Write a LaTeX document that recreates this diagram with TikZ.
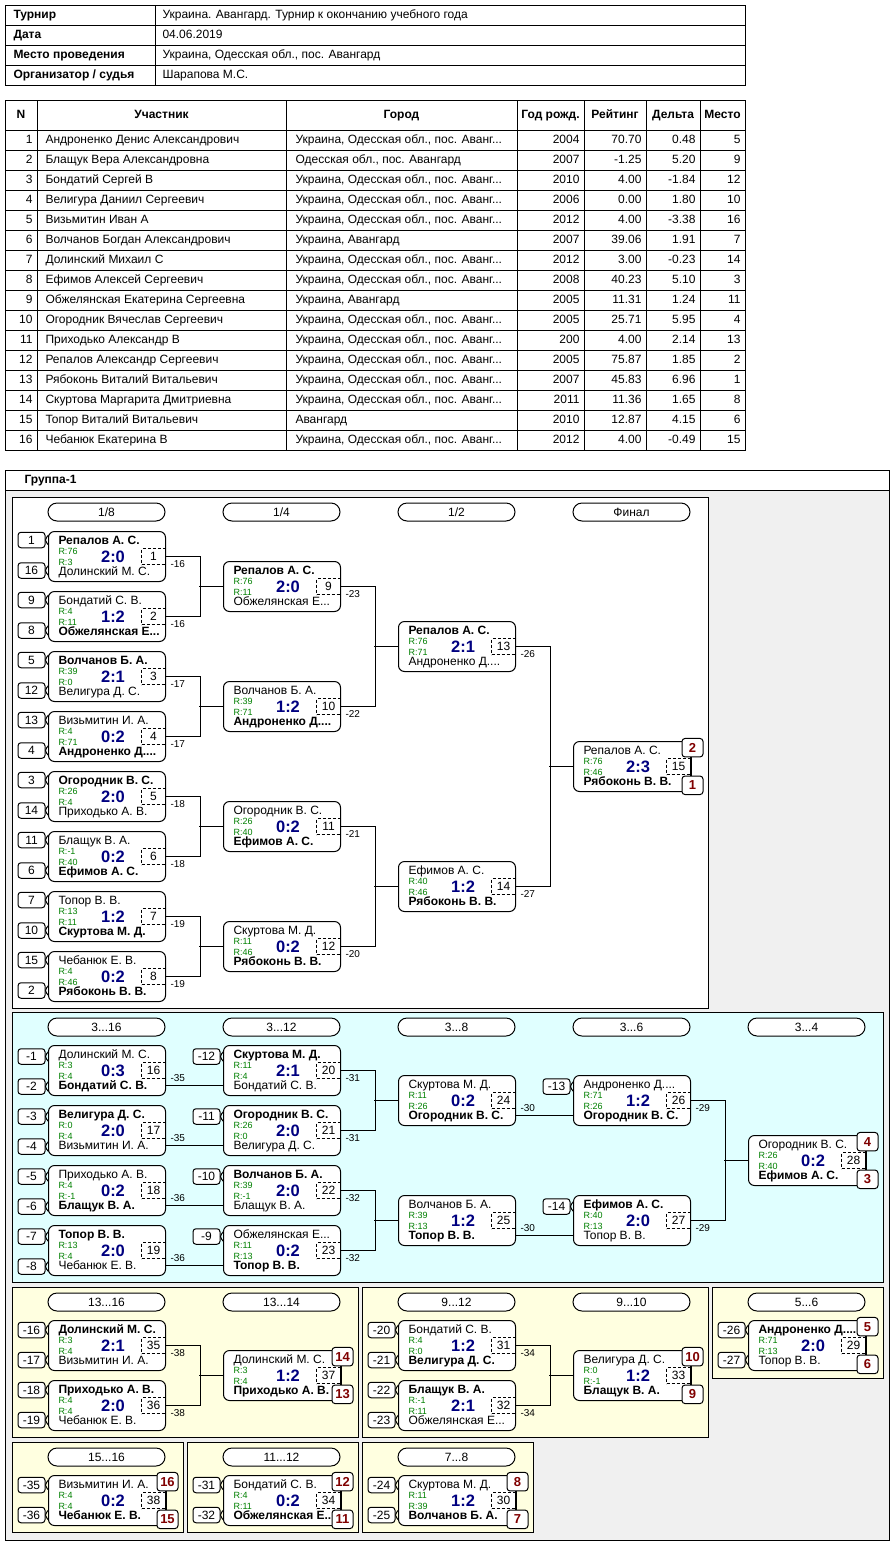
\documentclass[tikz,border=0pt]{standalone}
\usepackage{fontspec}
\setmainfont{Liberation Sans}
\usetikzlibrary{positioning,calc}

\definecolor{grpGray}{HTML}{F0F0F0}
\definecolor{grpCyan}{HTML}{E0FFFF}
\definecolor{grpYellow}{HTML}{FFFFE0}
\definecolor{grpScore}{HTML}{000080}
\definecolor{grpRating}{HTML}{008000}
\definecolor{grpPlace}{HTML}{800000}

\newcommand{\pxfont}[1]{\fontsize{#1pt}{#1pt}\selectfont}
\newcommand{\cityUOA}{Украина, Одесская обл., пос. Аванг...}

\tikzset{
  cell/.style={inner sep=0pt, font=\pxfont{12}, text height=9pt, text depth=2.5pt},
  cellhead/.style={cell, font=\pxfont{12}\bfseries},
  panelmain/.style={draw, fill=white},
  panelcons/.style={draw, fill=grpCyan},
  panelplace/.style={draw, fill=grpYellow},
  stage/.style={draw, fill=white, rounded corners=9pt, minimum width=117pt,
    minimum height=18pt, inner sep=0pt, font=\pxfont{12}},
  game/.style={draw, fill=white, rounded corners=6pt, minimum width=117pt,
    minimum height=50pt, inner sep=0pt},
  pname/.style={inner sep=0pt, font=\pxfont{12}},
  rating/.style={anchor=west, inner sep=0pt, font=\pxfont{9}, text=grpRating},
  score/.style={inner sep=0pt, font=\pxfont{16.5}\bfseries, text=grpScore},
  gameno/.style={draw, dash pattern=on 3pt off 2pt, anchor=east,
    minimum width=24pt, minimum height=16pt, inner sep=0pt, font=\pxfont{12}},
  loser/.style={anchor=west, inner sep=0pt, font=\pxfont{10}},
  seedbox/.style={draw, fill=white, rounded corners=3pt, minimum width=27pt,
    minimum height=15.5pt, inner sep=0pt, font=\pxfont{12}},
  place/.style={draw, fill=white, rounded corners=3pt, minimum width=21pt,
    minimum height=18.5pt, inner sep=0pt, font=\pxfont{13}\bfseries, text=grpPlace}
}

% one match: id, top-left corner, top name, bottom name, ratings, score, number, loser goes to
\newcommand{\gamebox}[9]{%
  \node[game, anchor=north west] (#1) at (#2) {};
  \node[pname, anchor=base west] (#1t) at ([xshift=10pt,yshift=-13.5pt]#1.north west) {#3};
  \node[pname, anchor=base west] (#1b) at ([xshift=10pt,yshift=-44.5pt]#1.north west) {#4};
  \node[rating] (#1r) at ([xshift=10pt,yshift=-20pt]#1.north west) {R:#5};
  \node[rating] (#1s) at ([xshift=10pt,yshift=-31pt]#1.north west) {R:#6};
  \node[score] (#1c) at ([xshift=65pt]#1.west) {#7};
  \node[gameno] (#1n) at (#1.east) {#8};
  \node[loser] (#1l) at ([xshift=4pt,yshift=-7.5pt]#1.east) {#9};
}
% entry box left of a match
\newcommand{\seed}[4]{%
  \node[seedbox] (#1) at ([xshift=-16.5pt,yshift=-#3pt]#2.north west) {#4};
  \draw ([xshift=3pt,yshift=5pt]#1.east) .. controls ([xshift=1pt,yshift=4pt]#1.east)
    and ([xshift=1pt,yshift=1.5pt]#1.east) .. (#1.east)
    .. controls ([xshift=1pt,yshift=-1.5pt]#1.east) and ([xshift=1pt,yshift=-4pt]#1.east)
    .. ([xshift=3pt,yshift=-5pt]#1.east);
}
% final places of a match
\newcommand{\placebox}[3]{%
  \node[place] (#1p) at ([xshift=1.5pt,yshift=-6.7pt]#1.north east) {#2};
  \node[place] (#1q) at ([xshift=1.5pt,yshift=6.7pt]#1.south east) {#3};
  \draw (#1p.south -| #1.east) -- (#1q.north -| #1.east);
}

\begin{document}
\begin{tikzpicture}[x=1pt, y=-1pt, line width=1pt]
  \fill[white] (0,0) rectangle (895,1545);
  \useasboundingbox (0,0) rectangle (895,1545);

  % tournament data
  \draw (5,5) rectangle (745,85);
  \draw (155,5) -- (155,85);
  \foreach \y in {25,45,65} \draw (5,\y) -- (745,\y);
  \node[cellhead, anchor=west] (i1) at (13,15) {Турнир};
  \node[cell, anchor=west] (v1) at (162,15) {Украина. Авангард. Турнир к окончанию учебного года};
  \node[cellhead, anchor=west] (i2) at (13,35) {Дата};
  \node[cell, anchor=west] (v2) at (162,35) {04.06.2019};
  \node[cellhead, anchor=west] (i3) at (13,55) {Место проведения};
  \node[cell, anchor=west] (v3) at (162,55) {Украина, Одесская обл., пос. Авангард};
  \node[cellhead, anchor=west] (i4) at (13,75) {Организатор / судья};
  \node[cell, anchor=west] (v4) at (162,75) {Шарапова М.С.};

  % participants
  \draw (5,100) rectangle (745,450);
  \foreach \y in {130,150,...,430} \draw (5,\y) -- (745,\y);
  \foreach \x in {37,286,517,584,646,700} \draw (\x,100) -- (\x,450);
  \node[cellhead] (hn) at (21,115) {N};
  \node[cellhead] (ha) at (161.5,115) {Участник};
  \node[cellhead] (hc) at (401.5,115) {Город};
  \node[cellhead] (hy) at (550.5,115) {Год рожд.};
  \node[cellhead] (hr) at (615,115) {Рейтинг};
  \node[cellhead] (hd) at (673,115) {Дельта};
  \node[cellhead] (hp) at (722.5,115) {Место};
  \foreach \nm/\ct/\yr/\rt/\dl/\pl [count=\i] in {
      Андроненко Денис Александрович/\cityUOA/2004/70.70/0.48/5,
      Блащук Вера Александровна/{Одесская обл., пос. Авангард}/2007/-1.25/5.20/9,
      Бондатий Сергей В/\cityUOA/2010/4.00/-1.84/12,
      Велигура Даниил Сергеевич/\cityUOA/2006/0.00/1.80/10,
      Визьмитин Иван А/\cityUOA/2012/4.00/-3.38/16,
      Волчанов Богдан Александрович/{Украина, Авангард}/2007/39.06/1.91/7,
      Долинский Михаил С/\cityUOA/2012/3.00/-0.23/14,
      Ефимов Алексей Сергеевич/\cityUOA/2008/40.23/5.10/3,
      Обжелянская Екатерина Сергеевна/{Украина, Авангард}/2005/11.31/1.24/11,
      Огородник Вячеслав Сергеевич/\cityUOA/2005/25.71/5.95/4,
      Приходько Александр В/\cityUOA/200/4.00/2.14/13,
      Репалов Александр Сергеевич/\cityUOA/2005/75.87/1.85/2,
      Рябоконь Виталий Витальевич/\cityUOA/2007/45.83/6.96/1,
      Скуртова Маргарита Дмитриевна/\cityUOA/2011/11.36/1.65/8,
      Топор Виталий Витальевич/Авангард/2010/12.87/4.15/6,
      Чебанюк Екатерина В/\cityUOA/2012/4.00/-0.49/15} {
    \node[cell, anchor=east] (pn\i) at (33,120+20*\i) {\i};
    \node[cell, anchor=west] (pa\i) at (45,120+20*\i) {\nm};
    \node[cell, anchor=west] (pc\i) at (295,120+20*\i) {\ct};
    \node[cell, anchor=east] (py\i) at (580,120+20*\i) {\yr};
    \node[cell, anchor=east] (pr\i) at (642,120+20*\i) {\rt};
    \node[cell, anchor=east] (pd\i) at (696,120+20*\i) {\dl};
    \node[cell, anchor=east] (pp\i) at (741,120+20*\i) {\pl};
  }

  % group frame and panels
  \fill[grpGray] (5,490) rectangle (889,1540);
  \draw (5,470) rectangle (889,1540);
  \draw (5,490) -- (889,490);
  \node[cellhead, anchor=west] (grp) at (24,480) {Группа-1};
  \draw[panelmain] (12,497) rectangle (708,1008);
  \draw[panelcons] (12,1012) rectangle (883,1282);
  \draw[panelplace] (12,1287) rectangle (358,1437);
  \draw[panelplace] (362,1287) rectangle (708,1437);
  \draw[panelplace] (712,1287) rectangle (883,1378);
  \draw[panelplace] (12,1442) rectangle (183,1532);
  \draw[panelplace] (187,1442) rectangle (358,1532);
  \draw[panelplace] (362,1442) rectangle (533,1532);

  % stage headers
  \node[stage] (s18) at (106.5,512) {1/8};
  \node[stage] (s14) at (281.5,512) {1/4};
  \node[stage] (s12) at (456.5,512) {1/2};
  \node[stage] (sfin) at (631.5,512) {Финал};
  \node[stage] (c316) at (106.5,1027) {3...16};
  \node[stage] (c312) at (281.5,1027) {3...12};
  \node[stage] (c38) at (456.5,1027) {3...8};
  \node[stage] (c36) at (631.5,1027) {3...6};
  \node[stage] (c34) at (806.5,1027) {3...4};
  \node[stage] (y1316) at (106.5,1302) {13...16};
  \node[stage] (y1314) at (281.5,1302) {13...14};
  \node[stage] (y912) at (456.5,1302) {9...12};
  \node[stage] (y910) at (631.5,1302) {9...10};
  \node[stage] (y56) at (806.5,1302) {5...6};
  \node[stage] (y1516) at (106.5,1457) {15...16};
  \node[stage] (y1112) at (281.5,1457) {11...12};
  \node[stage] (y78) at (456.5,1457) {7...8};

  % main bracket
  \gamebox{m1}{48,531}{\bfseries Репалов А. С.}{Долинский М. С.}{76}{3}{2:0}{1}{-16}
  \gamebox{m2}{48,591}{Бондатий С. В.}{\bfseries Обжелянская Е...}{4}{11}{1:2}{2}{-16}
  \gamebox{m3}{48,651}{\bfseries Волчанов Б. А.}{Велигура Д. С.}{39}{0}{2:1}{3}{-17}
  \gamebox{m4}{48,711}{Визьмитин И. А.}{\bfseries Андроненко Д....}{4}{71}{0:2}{4}{-17}
  \gamebox{m5}{48,771}{\bfseries Огородник В. С.}{Приходько А. В.}{26}{4}{2:0}{5}{-18}
  \gamebox{m6}{48,831}{Блащук В. А.}{\bfseries Ефимов А. С.}{-1}{40}{0:2}{6}{-18}
  \gamebox{m7}{48,891}{Топор В. В.}{\bfseries Скуртова М. Д.}{13}{11}{1:2}{7}{-19}
  \gamebox{m8}{48,951}{Чебанюк Е. В.}{\bfseries Рябоконь В. В.}{4}{46}{0:2}{8}{-19}
  \gamebox{m9}{223,561}{\bfseries Репалов А. С.}{Обжелянская Е...}{76}{11}{2:0}{9}{-23}
  \gamebox{m10}{223,681}{Волчанов Б. А.}{\bfseries Андроненко Д....}{39}{71}{1:2}{10}{-22}
  \gamebox{m11}{223,801}{Огородник В. С.}{\bfseries Ефимов А. С.}{26}{40}{0:2}{11}{-21}
  \gamebox{m12}{223,921}{Скуртова М. Д.}{\bfseries Рябоконь В. В.}{11}{46}{0:2}{12}{-20}
  \gamebox{m13}{398,621}{\bfseries Репалов А. С.}{Андроненко Д....}{76}{71}{2:1}{13}{-26}
  \gamebox{m14}{398,861}{Ефимов А. С.}{\bfseries Рябоконь В. В.}{40}{46}{1:2}{14}{-27}
  \gamebox{m15}{573,741}{Репалов А. С.}{\bfseries Рябоконь В. В.}{76}{46}{2:3}{15}{}
  \foreach \g/\a/\b in {m1/1/16,m2/9/8,m3/5/12,m4/13/4,m5/3/14,m6/11/6,m7/7/10,m8/15/2} {
    \seed{\g-u}{\g}{9}{\a}
    \seed{\g-v}{\g}{39.5}{\b}
  }
  \draw (m1.east) -- ++(34,0) |- (m2.east);
  \draw (m3.east) -- ++(34,0) |- (m4.east);
  \draw (m5.east) -- ++(34,0) |- (m6.east);
  \draw (m7.east) -- ++(34,0) |- (m8.east);
  \draw (m9.east) -- ++(34,0) |- (m10.east);
  \draw (m11.east) -- ++(34,0) |- (m12.east);
  \draw (m13.east) -- ++(34,0) |- (m14.east);
  \foreach \g in {m9,m10,m11,m12,m13,m14,m15} \draw (\g.west) -- ++(-24,0);
  \placebox{m15}{2}{1}

  % places 3-16
  \gamebox{m16}{48,1045}{Долинский М. С.}{\bfseries Бондатий С. В.}{3}{4}{0:3}{16}{-35}
  \gamebox{m17}{48,1105}{\bfseries Велигура Д. С.}{Визьмитин И. А.}{0}{4}{2:0}{17}{-35}
  \gamebox{m18}{48,1165}{Приходько А. В.}{\bfseries Блащук В. А.}{4}{-1}{0:2}{18}{-36}
  \gamebox{m19}{48,1225}{\bfseries Топор В. В.}{Чебанюк Е. В.}{13}{4}{2:0}{19}{-36}
  \gamebox{m20}{223,1045}{\bfseries Скуртова М. Д.}{Бондатий С. В.}{11}{4}{2:1}{20}{-31}
  \gamebox{m21}{223,1105}{\bfseries Огородник В. С.}{Велигура Д. С.}{26}{0}{2:0}{21}{-31}
  \gamebox{m22}{223,1165}{\bfseries Волчанов Б. А.}{Блащук В. А.}{39}{-1}{2:0}{22}{-32}
  \gamebox{m23}{223,1225}{Обжелянская Е...}{\bfseries Топор В. В.}{11}{13}{0:2}{23}{-32}
  \gamebox{m24}{398,1075}{Скуртова М. Д.}{\bfseries Огородник В. С.}{11}{26}{0:2}{24}{-30}
  \gamebox{m25}{398,1195}{Волчанов Б. А.}{\bfseries Топор В. В.}{39}{13}{1:2}{25}{-30}
  \gamebox{m26}{573,1075}{Андроненко Д....}{\bfseries Огородник В. С.}{71}{26}{1:2}{26}{-29}
  \gamebox{m27}{573,1195}{\bfseries Ефимов А. С.}{Топор В. В.}{40}{13}{2:0}{27}{-29}
  \gamebox{m28}{748,1135}{Огородник В. С.}{\bfseries Ефимов А. С.}{26}{40}{0:2}{28}{}
  \foreach \g/\a/\b in {m16/-1/-2,m17/-3/-4,m18/-5/-6,m19/-7/-8} {
    \seed{\g-u}{\g}{11.5}{\a}
    \seed{\g-v}{\g}{41.5}{\b}
  }
  \foreach \g/\a in {m20/-12,m21/-11,m22/-10,m23/-9,m26/-13,m27/-14}
    \seed{\g-u}{\g}{11.5}{\a}
  \draw ([yshift=-15pt]m16.east) -- ([yshift=-15pt]m20.west);
  \draw ([yshift=-15pt]m17.east) -- ([yshift=-15pt]m21.west);
  \draw ([yshift=-15pt]m18.east) -- ([yshift=-15pt]m22.west);
  \draw ([yshift=-15pt]m19.east) -- ([yshift=-15pt]m23.west);
  \draw (m20.east) -- ++(34,0) |- (m21.east);
  \draw (m22.east) -- ++(34,0) |- (m23.east);
  \draw (m24.west) -- ++(-24,0);
  \draw (m25.west) -- ++(-24,0);
  \draw ([yshift=-15pt]m24.east) -- ([yshift=-15pt]m26.west);
  \draw ([yshift=-15pt]m25.east) -- ([yshift=-15pt]m27.west);
  \draw (m26.east) -- ++(34,0) |- (m27.east);
  \draw (m28.west) -- ++(-24,0);
  \placebox{m28}{4}{3}

  % lower places
  \gamebox{m35}{48,1320}{\bfseries Долинский М. С.}{Визьмитин И. А.}{3}{4}{2:1}{35}{-38}
  \gamebox{m36}{48,1380}{\bfseries Приходько А. В.}{Чебанюк Е. В.}{4}{4}{2:0}{36}{-38}
  \gamebox{m37}{223,1350}{Долинский М. С.}{\bfseries Приходько А. В.}{3}{4}{1:2}{37}{}
  \gamebox{m31}{398,1320}{Бондатий С. В.}{\bfseries Велигура Д. С.}{4}{0}{1:2}{31}{-34}
  \gamebox{m32}{398,1380}{\bfseries Блащук В. А.}{Обжелянская Е...}{-1}{11}{2:1}{32}{-34}
  \gamebox{m33}{573,1350}{Велигура Д. С.}{\bfseries Блащук В. А.}{0}{-1}{1:2}{33}{}
  \gamebox{m29}{748,1320}{\bfseries Андроненко Д....}{Топор В. В.}{71}{13}{2:0}{29}{}
  \gamebox{m38}{48,1475}{Визьмитин И. А.}{\bfseries Чебанюк Е. В.}{4}{4}{0:2}{38}{}
  \gamebox{m34}{223,1475}{Бондатий С. В.}{\bfseries Обжелянская Е...}{4}{11}{0:2}{34}{}
  \gamebox{m30}{398,1475}{Скуртова М. Д.}{\bfseries Волчанов Б. А.}{11}{39}{1:2}{30}{}
  \foreach \g/\a/\b in {m35/-16/-17,m36/-18/-19,m31/-20/-21,m32/-22/-23,m29/-26/-27,
      m38/-35/-36,m34/-31/-32,m30/-24/-25} {
    \seed{\g-u}{\g}{10}{\a}
    \seed{\g-v}{\g}{40}{\b}
  }
  \draw (m35.east) -- ++(34,0) |- (m36.east);
  \draw (m37.west) -- ++(-24,0);
  \draw (m31.east) -- ++(34,0) |- (m32.east);
  \draw (m33.west) -- ++(-24,0);
  \placebox{m37}{14}{13}
  \placebox{m33}{10}{9}
  \placebox{m29}{5}{6}
  \placebox{m38}{16}{15}
  \placebox{m34}{12}{11}
  \placebox{m30}{8}{7}
\end{tikzpicture}
\end{document}
